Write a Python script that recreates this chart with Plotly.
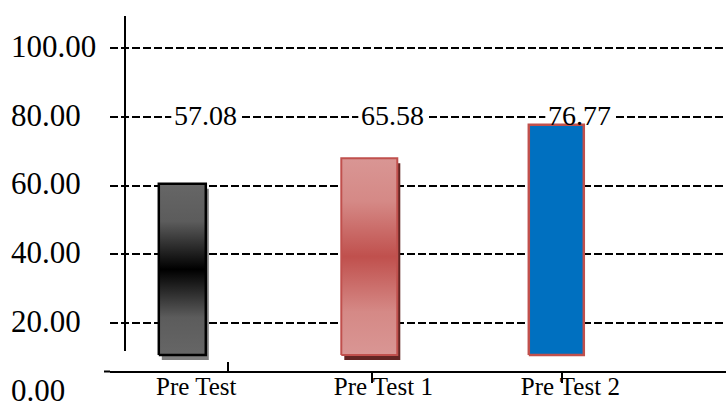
import plotly.graph_objects as go

# ---- data -------------------------------------------------------------
categories = ["Pre Test", "Pre Test 1", "Pre Test 2"]
scores = [57.08, 65.58, 76.77]
value_ticks = [0, 20, 40, 60, 80, 100]
grid_values = [20, 40, 60, 80, 100]
LABEL_LEVEL = 80  # value-axis height at which the score labels are printed

# ---- styling ----------------------------------------------------------
W, H = 726, 402
SERIF = "Liberation Serif, Times New Roman, serif"

bar_gradients = [
    [[0, "#666666"], [0.22, "#5c5c5c"], [0.5, "#000000"], [0.78, "#5c5c5c"], [1, "#666666"]],
    [[0, "#d99694"], [0.22, "#d58986"], [0.5, "#c0504d"], [0.78, "#d58986"], [1, "#d99694"]],
    [[0, "#0070c0"], [1, "#0070c0"]],
]
bar_outlines = ["#000000", "#c0504d", "#c0504d"]
bar_outline_widths = [2.5, 2, 2.5]
shadow_colors = ["#808080", "#632523", None]
bar_widths_px = [47, 56, 55]

# pixel geometry of the axes
PLOT_X0_PX = 110          # left end of the plotting area
CAT0_PX, CAT_STEP_PX = 182.3, 187.0   # bar centres
VAL0_PX, VAL_STEP_PX = 391.75, 3.4375  # value axis (px per unit)
BAR_BASE_PX, BAR_SCALE = 355.0, 3.0    # bar scale (px per unit)
SHADOW_DX_PX, SHADOW_DY_PX = 3, 5
LABEL_XSHIFT_PX = 23
AXIS_Y_PX = 371.5


def px_x(px):
    return px / W


def px_y(py):
    return 1 - py / H


x_range = [(PLOT_X0_PX - CAT0_PX) / CAT_STEP_PX, (W - CAT0_PX) / CAT_STEP_PX]
y_range = [(VAL0_PX - H) / VAL_STEP_PX, VAL0_PX / VAL_STEP_PX]
bar_y_range = [(BAR_BASE_PX - H) / BAR_SCALE, BAR_BASE_PX / BAR_SCALE]

fig = go.Figure()

positions = list(range(len(categories)))

# carrier for the left-hand value labels
fig.add_trace(go.Scatter(x=[None], y=[None], xaxis="x", yaxis="y2",
                         mode="markers", showlegend=False, hoverinfo="skip"))

# drop shadows behind the bars
for i, (pos, v) in enumerate(zip(positions, scores)):
    if shadow_colors[i] is None:
        continue
    w = bar_widths_px[i] / CAT_STEP_PX
    fig.add_trace(go.Bar(
        x=[pos + SHADOW_DX_PX / CAT_STEP_PX], y=[v],
        base=[-SHADOW_DY_PX / BAR_SCALE], width=[w],
        marker=dict(color=shadow_colors[i], line=dict(width=0)),
        xaxis="x", yaxis="y3", showlegend=False, hoverinfo="skip",
    ))

# the bars themselves, with a vertical gradient fill
for i, (pos, v) in enumerate(zip(positions, scores)):
    hw = bar_widths_px[i] / CAT_STEP_PX / 2
    fig.add_trace(go.Scatter(
        x=[pos - hw, pos + hw, pos + hw, pos - hw, pos - hw],
        y=[0, 0, v, v, 0],
        mode="lines", fill="toself",
        fillgradient=dict(type="vertical", colorscale=bar_gradients[i]),
        line=dict(color=bar_outlines[i], width=bar_outline_widths[i]),
        xaxis="x", yaxis="y3", showlegend=False,
        name=categories[i], hovertemplate="%{fullData.name}: " + f"{v:.2f}<extra></extra>",
    ))

# score labels on the 80 grid line, with a white gap cut into the dashes
shapes = []
for pos, v in zip(positions, scores):
    fig.add_annotation(
        x=pos, y=LABEL_LEVEL, xref="x", yref="y",
        xshift=LABEL_XSHIFT_PX, yshift=1,
        text=f"{v:.2f}", showarrow=False,
        font=dict(family=SERIF, size=28, color="black"),
    )
    shapes.append(dict(
        type="rect", layer="between", xref="x", yref="y",
        xsizemode="pixel", ysizemode="pixel", xanchor=pos, yanchor=LABEL_LEVEL,
        x0=LABEL_XSHIFT_PX - 34, x1=LABEL_XSHIFT_PX + 34, y0=-3, y1=3,
        fillcolor="white", line=dict(width=0),
    ))

# tick marks and the vertical value-axis line
line_style = dict(color="black", width=2)
shapes += [
    dict(type="line", xref="paper", yref="paper",
         x0=px_x(125), x1=px_x(125), y0=px_y(16), y1=px_y(351), line=line_style),
    dict(type="line", xref="paper", yref="paper",
         x0=px_x(104), x1=px_x(PLOT_X0_PX), y0=px_y(AXIS_Y_PX), y1=px_y(AXIS_Y_PX), line=line_style),
    dict(type="line", xref="paper", yref="paper",
         x0=px_x(228), x1=px_x(228), y0=px_y(362), y1=px_y(AXIS_Y_PX), line=line_style),
    dict(type="line", xref="paper", yref="paper",
         x0=px_x(372), x1=px_x(372), y0=px_y(AXIS_Y_PX), y1=px_y(383), line=line_style),
    dict(type="line", xref="paper", yref="paper",
         x0=px_x(562), x1=px_x(562), y0=px_y(AXIS_Y_PX), y1=px_y(383), line=line_style),
]

fig.update_layout(
    width=W, height=H,
    margin=dict(l=0, r=0, t=0, b=0, pad=0, autoexpand=False),
    paper_bgcolor="white", plot_bgcolor="white",
    showlegend=False, barmode="overlay",
    shapes=shapes,
    xaxis=dict(
        domain=[px_x(PLOT_X0_PX), 1], range=x_range, fixedrange=True,
        anchor="free", position=px_y(AXIS_Y_PX),
        tickmode="array", tickvals=positions, ticktext=categories,
        ticks="", ticklabelshift=14, ticklabelstandoff=-8,
        ticklabeloverflow="allow",
        showline=True, linecolor="black", linewidth=2,
        showgrid=False, zeroline=False, automargin=False,
        tickfont=dict(family=SERIF, size=25, color="black"),
    ),
    yaxis=dict(
        range=y_range, fixedrange=True, automargin=False,
        tickmode="array", tickvals=grid_values, showticklabels=False, ticks="",
        showgrid=True, gridcolor="black", gridwidth=2, griddash="8px,3px",
        zeroline=False, showline=False,
    ),
    yaxis2=dict(
        overlaying="y", range=y_range, fixedrange=True, automargin=False,
        anchor="free", side="right", position=0.0,
        tickmode="array", tickvals=value_ticks,
        ticktext=[f"{t:.2f}" for t in value_ticks],
        ticks="", ticklabelstandoff=10, ticklabelshift=-2,
        ticklabeloverflow="allow",
        showgrid=False, zeroline=False, showline=False,
        tickfont=dict(family=SERIF, size=31, color="black"),
    ),
    yaxis3=dict(
        overlaying="y", range=bar_y_range, fixedrange=True, visible=False,
    ),
)

fig.write_html("out.html")
